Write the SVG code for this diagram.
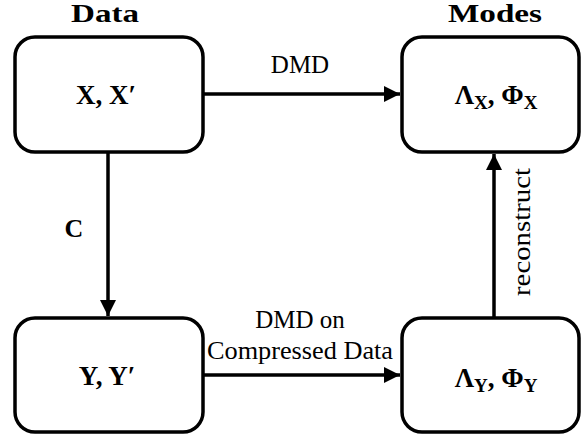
<svg xmlns="http://www.w3.org/2000/svg" width="582" height="438" viewBox="0 0 582 438">
<style>
.box{fill:#fff;stroke:#000;stroke-width:3.5}
.edge{stroke:#000;stroke-width:3.5;fill:none}
text{fill:#000;text-anchor:middle}
.b{font-weight:bold}
.m{font-weight:bold;font-size:27px}
.sub{font-size:19px}
.lbl{font-size:25px}
</style>
<defs>
<marker id="ah" viewBox="0 0 16 16" refX="16" refY="8" markerWidth="16" markerHeight="16" markerUnits="userSpaceOnUse" orient="auto">
<path d="M0,0 L16,8 L0,16 Z" fill="#000"/>
</marker>
</defs>
<g font-family="Liberation Serif, DejaVu Serif, serif">
<text class="b" x="105" y="22" font-size="25" textLength="68" lengthAdjust="spacingAndGlyphs">Data</text>
<text class="b" x="495" y="22" font-size="25" textLength="94" lengthAdjust="spacingAndGlyphs">Modes</text>
<g id="connectors">
<line class="edge" x1="203" y1="94" x2="400" y2="94" marker-end="url(#ah)"/>
<line class="edge" x1="108" y1="152" x2="108" y2="316" marker-end="url(#ah)"/>
<line class="edge" x1="203" y1="375" x2="400" y2="375" marker-end="url(#ah)"/>
<line class="edge" x1="494" y1="318" x2="494" y2="154" marker-end="url(#ah)"/>
<text class="lbl" x="300" y="73">DMD</text>
<text class="b" x="74" y="237" font-size="26">C</text>
<text class="lbl" x="300" y="328">DMD on</text>
<text class="lbl" x="300" y="359" textLength="186" lengthAdjust="spacingAndGlyphs">Compressed Data</text>
<text class="lbl" transform="translate(530,232) rotate(-90)" x="0" y="0" textLength="128" lengthAdjust="spacingAndGlyphs">reconstruct</text>
</g>
<g id="data">
<rect class="box" x="15" y="37" width="188" height="115" rx="20"/>
<text class="m" x="106" y="104">X, X′</text>
</g>
<g id="modes">
<rect class="box" x="402" y="37" width="177" height="115" rx="20"/>
<text class="m" x="496" y="104">Λ<tspan class="sub" dy="5">X</tspan><tspan dy="-5">, Φ</tspan><tspan class="sub" dy="5">X</tspan></text>
</g>
<g id="compressed">
<rect class="box" x="15" y="318" width="188" height="114" rx="20"/>
<text class="m" x="107" y="385">Y, Y′</text>
</g>
<g id="cmodes">
<rect class="box" x="402" y="318" width="177" height="114" rx="20"/>
<text class="m" x="496" y="387">Λ<tspan class="sub" dy="5">Y</tspan><tspan dy="-5">, Φ</tspan><tspan class="sub" dy="5">Y</tspan></text>
</g>
</g>
</svg>
